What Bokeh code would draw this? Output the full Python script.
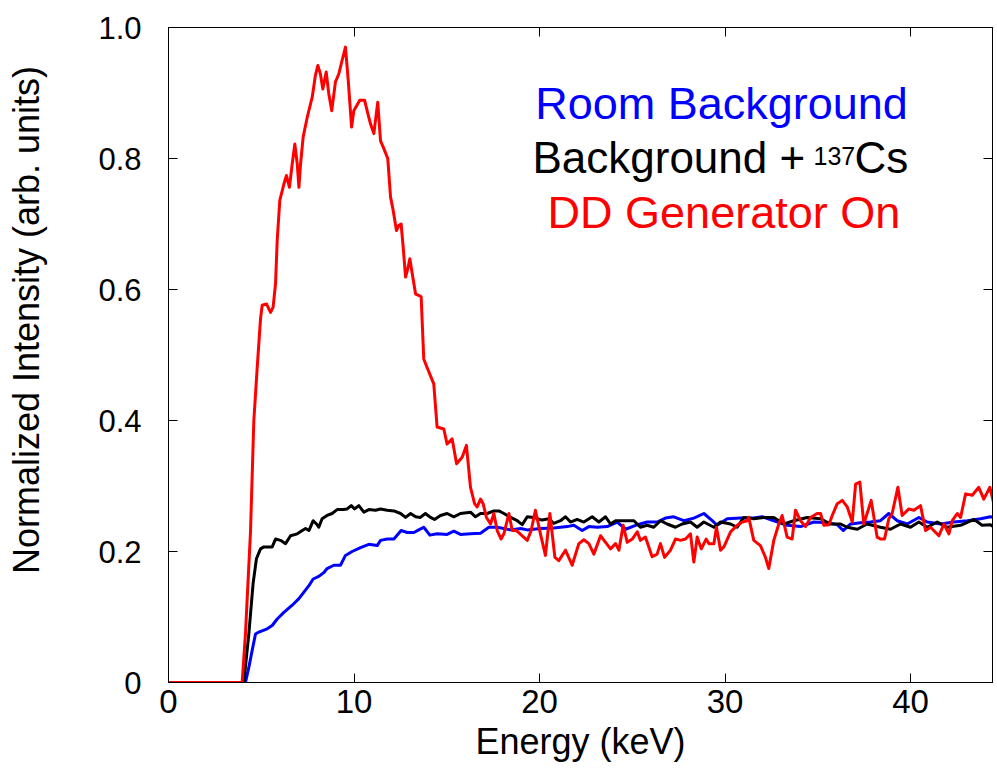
from bokeh.plotting import figure
from bokeh.models import Range1d, FixedTicker, LinearAxis, Label
from bokeh.embed import file_html
from bokeh.resources import INLINE

FONT = "Liberation Sans"

# ---------------- data ----------------
room_e = [0, 4.0, 4.15, 4.33, 4.51, 4.69, 4.87, 5.32, 5.59, 5.86, 6.22, 6.67, 7.03, 7.30, 7.57, 7.80,
          8.10, 8.38, 8.55, 8.91, 9.27, 9.54, 9.90, 10.35, 10.80, 11.25, 11.43, 11.79, 12.15, 12.54,
          12.87, 13.23, 13.49, 13.76, 14.09, 14.48, 15.02, 15.38, 15.74, 16.28, 16.82, 17.27, 17.72,
          18.44, 18.98, 19.34, 20.05, 20.77, 21.13, 21.49, 21.85, 22.30, 22.66, 23.11, 23.65, 24.19,
          24.64, 25.18, 25.80, 26.34, 26.79, 27.24, 27.78, 28.32, 28.86, 29.31, 29.58, 30.12, 30.84,
          31.55, 32.00, 32.63, 33.35, 34.07, 34.79, 35.51, 36.05, 36.37, 36.77, 37.31, 37.84, 38.38,
          38.83, 39.28, 39.82, 40.45, 40.90, 41.62, 42.34, 43.06, 43.78, 44.31, 44.67]
room_i = [0, 0, 0, 0.023, 0.049, 0.074, 0.077, 0.082, 0.087, 0.097, 0.107, 0.118, 0.128, 0.138, 0.148,
          0.158, 0.162, 0.168, 0.174, 0.179, 0.179, 0.194, 0.200, 0.206, 0.211, 0.209, 0.217, 0.219,
          0.219, 0.232, 0.229, 0.229, 0.233, 0.237, 0.225, 0.227, 0.226, 0.231, 0.226, 0.227, 0.228,
          0.237, 0.237, 0.233, 0.235, 0.233, 0.235, 0.236, 0.237, 0.238, 0.240, 0.232, 0.238, 0.237,
          0.238, 0.245, 0.234, 0.240, 0.245, 0.245, 0.251, 0.253, 0.247, 0.251, 0.258, 0.247, 0.240,
          0.250, 0.251, 0.251, 0.253, 0.247, 0.240, 0.238, 0.245, 0.244, 0.241, 0.232, 0.242, 0.244,
          0.245, 0.247, 0.258, 0.247, 0.242, 0.252, 0.245, 0.242, 0.245, 0.247, 0.250, 0.253, 0.251]

cs_e = [0, 3.95, 4.06, 4.33, 4.56, 4.74, 4.96, 5.14, 5.59, 5.77, 6.04, 6.31, 6.58, 6.94, 7.21, 7.39,
        7.57, 7.80, 7.98, 8.10, 8.28, 8.55, 8.82, 9.09, 9.42, 9.63, 9.85, 10.03, 10.26, 10.53, 10.80,
        11.16, 11.43, 11.79, 12.15, 12.51, 12.78, 13.05, 13.32, 13.58, 13.85, 14.12, 14.34, 14.66,
        15.02, 15.38, 15.74, 16.28, 16.55, 16.82, 17.18, 17.54, 17.81, 18.08, 18.44, 18.80, 19.07,
        19.34, 19.69, 20.14, 20.50, 20.77, 21.13, 21.40, 21.67, 22.03, 22.39, 22.84, 23.20, 23.56,
        23.83, 24.10, 25.09, 25.44, 25.80, 26.16, 26.52, 26.88, 27.33, 27.69, 28.14, 28.50, 28.86,
        29.40, 29.76, 30.30, 30.66, 31.01, 31.55, 32.09, 32.63, 33.17, 33.71, 34.43, 35.15, 35.69,
        36.23, 36.59, 37.13, 37.66, 38.38, 38.92, 39.46, 40.00, 40.45, 40.90, 41.44, 41.98, 42.70,
        43.42, 43.86, 44.31, 44.67]
cs_i = [0, 0, 0, 0.074, 0.151, 0.189, 0.204, 0.207, 0.207, 0.219, 0.217, 0.212, 0.224, 0.227, 0.232,
        0.235, 0.232, 0.247, 0.242, 0.237, 0.250, 0.255, 0.258, 0.264, 0.264, 0.265, 0.270, 0.265,
        0.270, 0.260, 0.264, 0.263, 0.265, 0.263, 0.262, 0.258, 0.252, 0.258, 0.253, 0.252, 0.258,
        0.252, 0.249, 0.255, 0.258, 0.253, 0.258, 0.260, 0.253, 0.258, 0.258, 0.262, 0.262, 0.258,
        0.252, 0.247, 0.241, 0.253, 0.252, 0.248, 0.250, 0.243, 0.247, 0.253, 0.245, 0.249, 0.245,
        0.253, 0.245, 0.253, 0.242, 0.247, 0.247, 0.237, 0.240, 0.237, 0.247, 0.242, 0.237, 0.242,
        0.245, 0.237, 0.245, 0.237, 0.245, 0.242, 0.237, 0.252, 0.250, 0.252, 0.252, 0.242, 0.247,
        0.252, 0.250, 0.242, 0.242, 0.237, 0.234, 0.242, 0.237, 0.234, 0.242, 0.237, 0.245, 0.237,
        0.245, 0.237, 0.240, 0.249, 0.240, 0.241, 0.234]

dd_e = [0, 3.97, 4.15, 4.42, 4.60, 4.78, 4.96, 5.05, 5.28, 5.50, 5.64, 5.77, 5.86, 6.00, 6.22, 6.36,
        6.52, 6.67, 6.81, 6.94, 7.03, 7.12, 7.26, 7.48, 7.75, 7.92, 8.05, 8.19, 8.32, 8.50, 8.64, 8.80,
        9.00, 9.18, 9.36, 9.54, 9.69, 9.87, 9.99, 10.31, 10.57, 10.75, 10.89, 11.07, 11.28, 11.43,
        11.61, 11.82, 11.97, 12.11, 12.29, 12.42, 12.54, 12.65, 12.78, 12.90, 13.01, 13.14, 13.32,
        13.49, 13.62, 13.76, 13.94, 14.30, 14.48, 14.84, 15.02, 15.29, 15.53, 15.83, 16.06, 16.28,
        16.50, 16.64, 16.82, 16.96, 17.14, 17.36, 17.54, 17.72, 17.93, 18.08, 18.35, 18.53, 18.76,
        19.07, 19.34, 19.55, 19.78, 20.05, 20.32, 20.56, 20.83, 21.04,
        21.40, 21.76, 22.12, 22.39, 22.66, 22.93, 23.29, 23.56, 23.83, 24.10, 24.28, 24.51, 24.73,
        25.00, 25.27, 25.44, 25.71, 26.07, 26.34, 26.52, 26.74, 27.06, 27.33, 27.60, 27.87, 28.14,
        28.32, 28.50, 28.72, 28.98, 29.13, 29.40, 29.54, 29.76, 29.94, 30.30, 30.66, 30.93, 31.19,
        31.28, 31.55, 31.91, 32.18, 32.36, 32.63, 32.90, 33.08, 33.35, 33.62, 33.80, 34.07, 34.34,
        34.61, 34.97, 35.15, 35.33, 35.60, 35.78, 36.05, 36.32, 36.59, 36.86, 37.04, 37.27, 37.48,
        37.66, 37.88, 38.20, 38.38, 38.60, 38.83, 39.01, 39.32, 39.55, 39.91, 40.18, 40.54, 40.81,
        41.08, 41.53, 41.80, 42.07, 42.25, 42.52, 42.70, 42.97, 43.33, 43.68, 43.95, 44.28, 44.49,
        44.67]
dd_i = [0, 0, 0.075, 0.23, 0.40, 0.48, 0.555, 0.576, 0.578, 0.565, 0.573, 0.609, 0.675, 0.736, 0.761,
        0.774, 0.756, 0.792, 0.822, 0.792, 0.756, 0.792, 0.833, 0.863, 0.894, 0.927, 0.942, 0.929,
        0.906, 0.932, 0.899, 0.873, 0.917, 0.929, 0.950, 0.970, 0.919, 0.848, 0.873, 0.889, 0.889,
        0.868, 0.853, 0.838, 0.886, 0.827, 0.815, 0.800, 0.741, 0.721, 0.690, 0.698, 0.700, 0.665,
        0.619, 0.632, 0.647, 0.624, 0.593, 0.591, 0.589, 0.494, 0.481, 0.456, 0.390, 0.387, 0.364,
        0.372, 0.334, 0.344, 0.362, 0.298, 0.273, 0.268, 0.280, 0.273, 0.252, 0.242, 0.258, 0.232,
        0.219, 0.227, 0.258, 0.232, 0.232, 0.224, 0.217, 0.232, 0.263, 0.227, 0.194, 0.258, 0.191,
        0.186,
        0.202, 0.179, 0.212, 0.218, 0.212, 0.196, 0.224, 0.214, 0.204, 0.212, 0.202, 0.240, 0.214,
        0.219, 0.230, 0.217, 0.222, 0.192, 0.196, 0.212, 0.191, 0.202, 0.219, 0.217, 0.219, 0.227,
        0.184, 0.222, 0.204, 0.219, 0.212, 0.212, 0.237, 0.202, 0.207, 0.230, 0.240, 0.245, 0.247,
        0.252, 0.217, 0.209, 0.191, 0.174, 0.217, 0.242, 0.255, 0.222, 0.219, 0.263, 0.247, 0.238,
        0.252, 0.258, 0.258, 0.240, 0.241, 0.255, 0.273, 0.278, 0.268, 0.245, 0.303, 0.306, 0.242,
        0.258, 0.278, 0.222, 0.219, 0.219, 0.250, 0.258, 0.298, 0.255, 0.265, 0.263, 0.270, 0.232,
        0.237, 0.224, 0.242, 0.227, 0.247, 0.258, 0.252, 0.288, 0.286, 0.298, 0.280, 0.298, 0.273,
        0.247]

x_ticks = [0, 10, 20, 30, 40]
y_ticks = [0, 0.2, 0.4, 0.6, 0.8, 1.0]
y_tick_labels = ["0", "0.2", "0.4", "0.6", "0.8", "1.0"]
series_names = ["Room Background", "Background + ", "137", "Cs", "DD Generator On"]

# ---------------- figure ----------------
p = figure(width=995, height=772, x_range=Range1d(0, 44.42), y_range=Range1d(0, 1.0),
           output_backend="svg", toolbar_location=None,
           min_border_left=168, min_border_right=3, min_border_top=27, min_border_bottom=90)
p.xgrid.visible = False
p.ygrid.visible = False
p.outline_line_color = "black"
p.outline_line_alpha = 1.0
p.outline_line_width = 1
p.background_fill_color = "white"
p.border_fill_color = "white"

def style_axis(ax, ticks):
    ax.ticker = FixedTicker(ticks=ticks)
    ax.major_tick_in = 9
    ax.major_tick_out = 0
    ax.minor_tick_in = 0
    ax.minor_tick_out = 0
    ax.axis_line_color = "black"
    ax.major_tick_line_color = "black"
    ax.major_label_text_font = FONT
    ax.major_label_text_color = "black"
    ax.axis_label_text_font = FONT
    ax.axis_label_text_font_style = "normal"
    ax.axis_label_text_color = "black"

xa = p.xaxis[0]
style_axis(xa, x_ticks)
xa.major_label_text_font_size = "33px"
xa.major_label_standoff = 7
xa.axis_label = "Energy (keV)"
xa.axis_label_text_font_size = "36px"
xa.axis_label_standoff = 5

ya = p.yaxis[0]
style_axis(ya, y_ticks)
ya.major_label_text_font_size = "31px"
ya.major_label_standoff = 27
ya.major_label_overrides = {t: l for t, l in zip(y_ticks, y_tick_labels)}
# leading no-break spaces lift the centred title a little, as in the original
ya.axis_label = "\u00a0" * 7 + "Normalized Intensity (arb. units)"
ya.axis_label_text_font_size = "36px"
ya.axis_label_standoff = 48

top = LinearAxis()
style_axis(top, x_ticks)
top.major_label_overrides = {t: "" for t in x_ticks}
top.major_label_standoff = 0
p.add_layout(top, "above")

right = LinearAxis()
style_axis(right, y_ticks)
right.major_label_overrides = {t: "" for t in y_ticks}
right.major_label_standoff = 0
p.add_layout(right, "right")

# ---------------- lines ----------------
p.line(room_e, room_i, line_color="#0000FF", line_width=3, line_join="round")
p.line(cs_e, cs_i, line_color="#000000", line_width=3, line_join="round")
p.line(dd_e, dd_i, line_color="#FF0000", line_width=3, line_join="round")

# ---------------- legend texts ----------------
def lab(x, y, text, size, color="black", align="left"):
    p.add_layout(Label(x=x, y=y, text=text, text_font=FONT, text_font_size=size,
                       text_color=color, text_align=align, text_baseline="middle"))

lab(29.81, 0.884, series_names[0], "45px", "#0000FF", "center")
lab(19.62, 0.802, series_names[1], "44px", "black")
lab(34.77, 0.804, series_names[2], "25px", "black")
lab(36.98, 0.802, series_names[3], "44px", "black")
lab(29.94, 0.718, series_names[4], "45px", "#FF0000", "center")

open("out.html", "w").write(file_html(p, INLINE))
